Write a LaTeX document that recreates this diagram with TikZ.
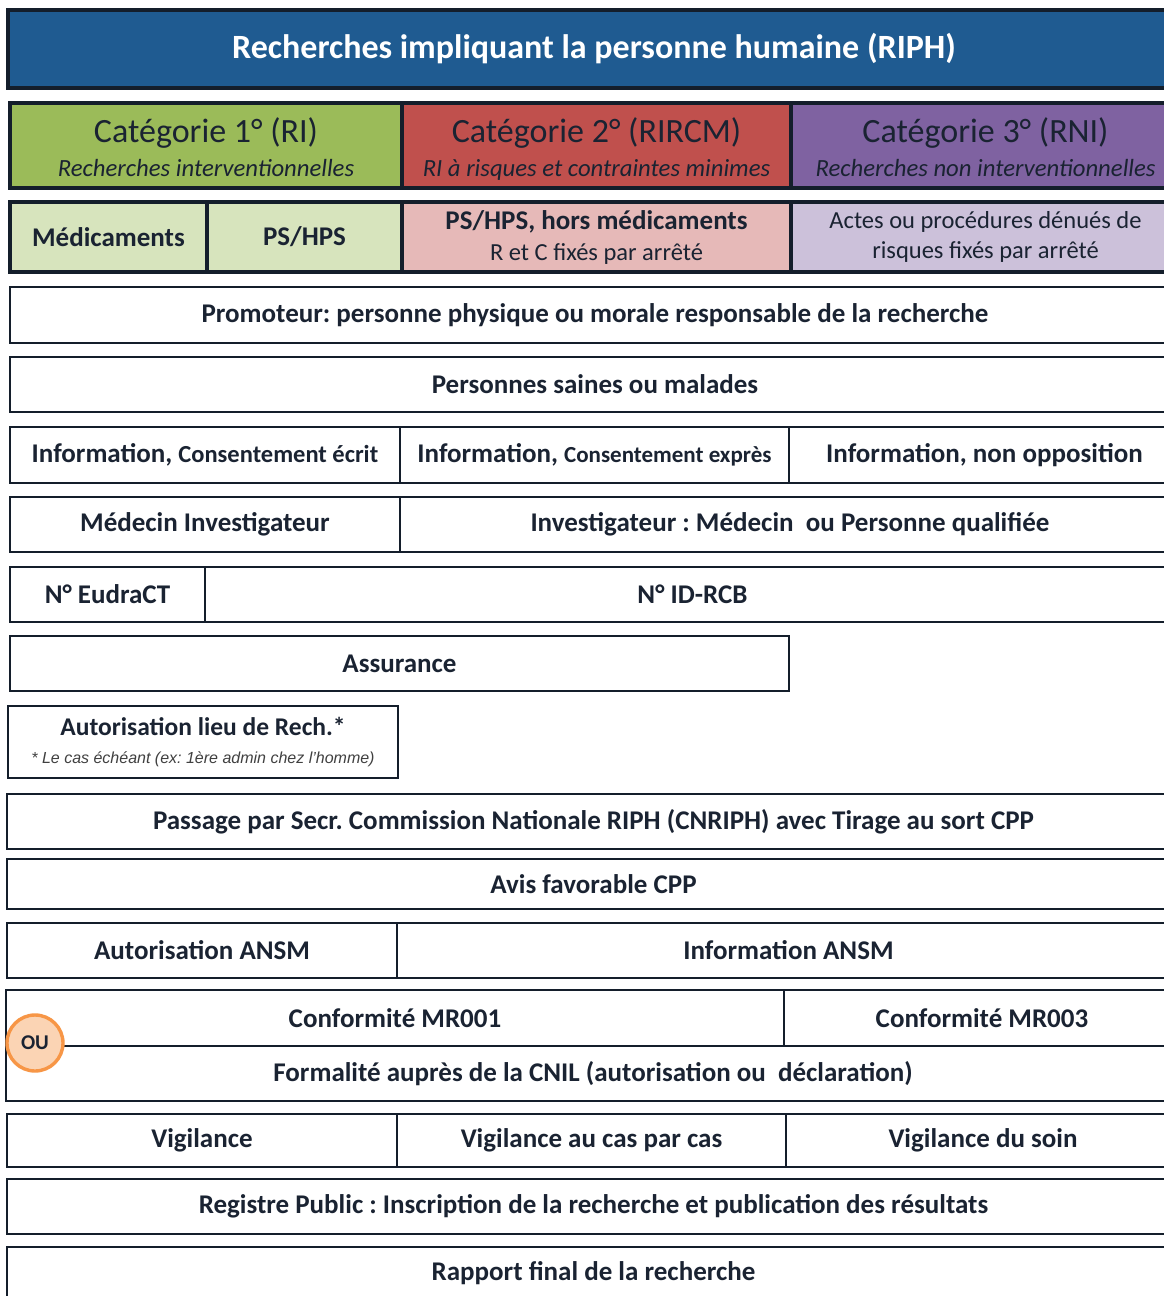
\documentclass[tikz,border=0pt]{standalone}
\usepackage{fontspec}
\setmainfont{Carlito}
\newfontfamily\arialf{Liberation Sans}
\frenchspacing
\definecolor{titleblue}{HTML}{1F5B91}
\definecolor{edge}{HTML}{141E2B}
\definecolor{ink}{HTML}{1A2332}
\definecolor{catgreen}{HTML}{9BBB59}
\definecolor{catred}{HTML}{C0504D}
\definecolor{catpurple}{HTML}{7F62A1}
\definecolor{lgreen}{HTML}{D7E4BD}
\definecolor{lred}{HTML}{E6B9B8}
\definecolor{lpurple}{HTML}{CCC1DA}
\definecolor{orangeedge}{HTML}{F79646}
\definecolor{peach}{HTML}{FBD4B4}
\newcommand\boxcell[7]{\node[#6,minimum width={#4-#2},minimum height={#5-#3}] (#1) at ({(#2+#4)/2},{(#3+#5)/2}) {#7};}
\newcommand\subtxt{\fontsize{24.7}{28}\selectfont\itshape\vphantom{q}}
\newcommand\topstrut{\rule{0pt}{31.5pt}}
\newcommand\smtxt{\fontsize{24.5}{28}\selectfont}
\begin{document}
\begin{tikzpicture}[x=1pt,y=-1pt,
  cell/.style={draw=edge,line width=2.2,inner sep=0,text=ink,align=center,
    font=\fontsize{27}{31}\selectfont\bfseries},
  titlecell/.style={draw=edge,line width=4,fill=titleblue,inner sep=0,text=white,
    font=\fontsize{34}{38}\selectfont\bfseries},
  catcell/.style={draw=edge,line width=3.2,inner sep=0,text=ink,align=center,
    font=\fontsize{34}{34}\selectfont},
  subcell/.style={draw=edge,line width=3.2,inner sep=0,text=ink,align=center},
  oucircle/.style={circle,draw=orangeedge,line width=3.4,fill=peach,minimum size=56,
    inner sep=0,text=ink,font=\fontsize{21}{24}\selectfont\bfseries}]
\useasboundingbox (0,0) rectangle (1164,1296);
\fill[white] (0,0) rectangle (1164,1296);
\clip (0,0) rectangle (1164,1296);
\def\R{1180}
% title
\boxcell{title}{8}{10}{\R}{88}{titlecell}{Recherches impliquant la personne humaine (RIPH)}
% categories
\boxcell{cat1}{10}{103}{402}{188}{catcell,fill=catgreen}{\topstrut Catégorie 1° (RI)\\{\subtxt Recherches interventionnelles}}
\boxcell{cat2}{402}{103}{791}{188}{catcell,fill=catred}{\topstrut Catégorie 2° (RIRCM)\\{\subtxt RI à risques et contraintes minimes}}
\boxcell{cat3}{791}{103}{\R}{188}{catcell,fill=catpurple}{\topstrut Catégorie 3° (RNI)\\{\subtxt Recherches non interventionnelles}}
% sub categories
\boxcell{med}{10}{202}{207}{272}{subcell,fill=lgreen,font=\fontsize{27}{31}\selectfont\bfseries}{Médicaments}
\boxcell{pshps}{207}{202}{402}{272}{subcell,fill=lgreen,font=\fontsize{27}{31}\selectfont\bfseries}{PS/HPS}
\boxcell{hors}{402}{202}{791}{272}{subcell,fill=lred,font=\fontsize{27}{31}\selectfont\bfseries}{PS/HPS, hors médicaments\\{\smtxt\mdseries R et C fixés par arrêté}}
\boxcell{actes}{791}{202}{\R}{272}{subcell,fill=lpurple,font=\fontsize{24.5}{29.5}\selectfont}{Actes ou procédures dénués de\\risques fixés par arrêté}
% rows
\boxcell{promo}{10}{287}{\R}{343}{cell}{Promoteur: personne physique ou morale responsable de la recherche}
\boxcell{pers}{10}{357}{\R}{412}{cell}{Personnes saines ou malades}
\boxcell{info1}{10}{427}{400}{483}{cell}{Information, {\smtxt\bfseries Consentement écrit}}
\boxcell{info2}{400}{427}{789}{483}{cell}{Information, {\fontsize{23}{27}\selectfont\bfseries Consentement exprès}}
\boxcell{info3}{789}{427}{\R}{483}{cell}{Information, non opposition}
\boxcell{medinv}{10}{497}{400}{552}{cell}{Médecin Investigateur}
\boxcell{invest}{400}{497}{\R}{552}{cell}{Investigateur : Médecin~ ou Personne qualifiée}
\boxcell{eudra}{10}{567}{205}{622}{cell}{N° EudraCT}
\boxcell{idrcb}{205}{567}{\R}{622}{cell}{N° ID-RCB}
\boxcell{assur}{10}{636}{789}{691}{cell}{Assurance}
\boxcell{lieu}{8}{706}{398}{778}{cell,font=\fontsize{25.5}{28}\selectfont\bfseries}{Autorisation lieu de Rech.*\\{\arialf\fontsize{16}{18}\selectfont\itshape\mdseries\color{black!75}* Le cas échéant (ex: 1ère admin chez l’homme)}}
\boxcell{passage}{7}{794}{\R}{849}{cell}{Passage par Secr. Commission Nationale RIPH (CNRIPH) avec Tirage au sort CPP}
\boxcell{avis}{7}{859}{\R}{909}{cell}{Avis favorable CPP}
\boxcell{ansm1}{7}{923}{397}{978}{cell}{Autorisation ANSM}
\boxcell{ansm2}{397}{923}{\R}{978}{cell}{Information ANSM}
\boxcell{mr001}{6}{990}{784}{1046}{cell}{Conformité MR001}
\boxcell{mr003}{784}{990}{\R}{1046}{cell}{Conformité MR003}
\boxcell{cnil}{6}{1046}{\R}{1101}{cell}{Formalité auprès de la CNIL (autorisation ou~ déclaration)}
\boxcell{vig1}{7}{1114}{397}{1167}{cell}{Vigilance}
\boxcell{vig2}{397}{1114}{786}{1167}{cell}{Vigilance au cas par cas}
\boxcell{vig3}{786}{1114}{\R}{1167}{cell}{Vigilance du soin}
\boxcell{reg}{7}{1179}{\R}{1234}{cell}{Registre Public : Inscription de la recherche et publication des résultats}
\boxcell{rapport}{7}{1247}{\R}{1300}{cell}{Rapport final de la recherche}
% OU
\node[oucircle] (ou) at (35,1043) {OU};
\end{tikzpicture}
\end{document}
